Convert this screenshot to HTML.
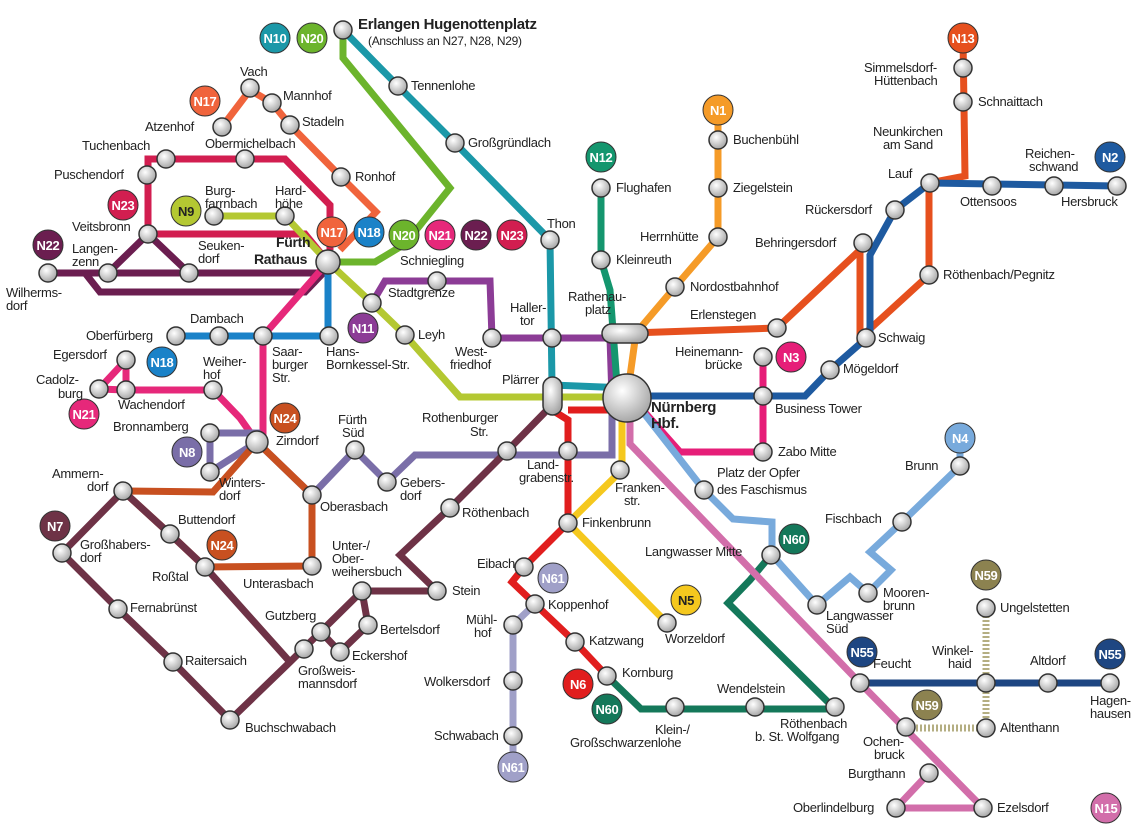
<!DOCTYPE html>
<html><head><meta charset="utf-8"><style>
html,body{margin:0;padding:0;background:#fff}
svg{display:block}
text{font-family:"Liberation Sans",sans-serif;font-size:13px;fill:#222;letter-spacing:-0.3px}
.b text,text.bt{font-weight:bold;fill:#fff;font-size:13px;text-anchor:middle}
.l{fill:none;stroke-width:7;stroke-linejoin:miter;stroke-linecap:butt}
.s{fill:url(#g);stroke:#333;stroke-width:1.5}
</style></head><body>
<svg width="1144" height="832" viewBox="0 0 1144 832" xmlns="http://www.w3.org/2000/svg">
<defs>
<radialGradient id="g" cx="40%" cy="35%" r="65%"><stop offset="0" stop-color="#fff"/><stop offset="1" stop-color="#a8a8a8"/></radialGradient>
</defs>
<polyline class="l" stroke="#1b98a8" points="343,30 398,86 455,143 550,240 552,385 627,388"/>
<polyline class="l" stroke="#6cb42c" points="343,30 343,58 450,188 405,244 375,262 328,262"/>
<polyline class="l" stroke="#f0643c" points="222,127 250,90 272,103 290,125 341,177 376,212 340,250"/>
<polyline class="l" stroke="#d21e50" points="328,262 305,234 148,234 148,159 285,159 330,205 330,250"/>
<polyline class="l" stroke="#6b1e50" points="48,273 320,273 328,262"/>
<polyline class="l" stroke="#6b1e50" points="85,273 100,292 305,292 328,268"/>
<polyline class="l" stroke="#6b1e50" points="108,273 148,234 189,273"/>
<polyline class="l" stroke="#b4c832" points="214,216 285,216 328,262 372,303 405,335 460,397 627,397"/>
<polyline class="l" stroke="#1a82c8" points="328,262 328,336 176,336"/>
<polyline class="l" stroke="#e6287a" points="328,262 263,336 263,440"/>
<polyline class="l" stroke="#e6287a" points="99,389 126,360 126,390 99,389"/>
<polyline class="l" stroke="#e6287a" points="126,390 213,390 240,418 257,442"/>
<polyline class="l" stroke="#8c3c96" points="372,303 385,281 490,281 492,338 610,338 612,398"/>
<polyline class="l" stroke="#7a6ea8" points="210,433 257,433 257,442 210,472 210,433"/>
<polyline class="l" stroke="#7a6ea8" points="257,442 312,495 355,450 387,482 415,455 612,455 612,398"/>
<polyline class="l" stroke="#c85020" points="257,442 213,492 123,491 170,534 205,567 312,566 312,495 257,442"/>
<polyline class="l" stroke="#6e3246" points="552,405 507,451 450,508 400,555 437,591 362,591 290,662 230,720 173,662 118,609 62,553 123,491 170,534 205,567 290,662"/>
<polyline class="l" stroke="#6e3246" points="362,591 368,625 340,652 321,632"/>
<polyline class="l" stroke="#e11e1e" points="552,410 568,420 568,451 568,523 524,567 512,582 535,604 575,642 607,676"/>
<polyline class="l" stroke="#e11e1e" points="568,410 627,410"/>
<polyline class="l" stroke="#f5c81e" points="622,410 622,470 568,523 667,623"/>
<polyline class="l" stroke="#a0a0c8" points="535,604 513,625 513,767"/>
<polyline class="l" stroke="#14785a" points="607,676 641,709 835,709 728,603 750,580 771,555"/>
<polyline class="l" stroke="#14966e" points="601,188 601,260 610,290 618,398"/>
<polyline class="l" stroke="#f59b28" points="718,110 718,237 675,287 636,333 627,398"/>
<polyline class="l" stroke="#e6501e" points="633,333 777,328 860,250 860,338 929,275 929,183 965,176 963,38"/>
<polyline class="l" stroke="#1e5aa0" points="627,396 805,396 830,370 870,335 870,255 895,210 930,183 1117,186"/>
<polyline class="l" stroke="#e61e78" points="632,398 680,452 763,452 763,357"/>
<polyline class="l" stroke="#d26eaa" points="630,410 630,444 860,683 983,808 896,808 929,773"/>
<polyline class="l" stroke="#78aadc" points="632,398 704,490 733,519 772,522 772,555 817,605 850,577 868,593 891,570 870,552 902,522 960,466 960,438"/>
<polyline class="l" stroke="#1e4682" points="860,683 1110,683"/>
<polyline class="l" stroke="#b4ae82" stroke-dasharray="2,2" stroke-width="8" points="986,608 986,728 906,728"/>
<rect x="602" y="324" width="46" height="19" rx="9.5" class="s"/>
<rect x="543" y="377" width="19" height="38" rx="9.5" class="s"/>
<circle cx="627" cy="398" r="24" class="s"/>
<circle cx="328" cy="262" r="12" class="s"/>
<circle cx="257" cy="442" r="11" class="s"/>
<g class="s">
<circle cx="343" cy="30" r="9"/><circle cx="398" cy="86" r="9"/><circle cx="455" cy="143" r="9"/><circle cx="550" cy="240" r="9"/><circle cx="552" cy="338" r="9"/><circle cx="492" cy="338" r="9"/>
<circle cx="222" cy="127" r="9"/><circle cx="250" cy="88" r="9"/><circle cx="272" cy="103" r="9"/><circle cx="290" cy="125" r="9"/><circle cx="341" cy="177" r="9"/>
<circle cx="166" cy="159" r="9"/><circle cx="245" cy="159" r="9"/><circle cx="147" cy="175" r="9"/><circle cx="148" cy="234" r="9"/>
<circle cx="214" cy="216" r="9"/><circle cx="285" cy="216" r="9"/><circle cx="108" cy="273" r="9"/><circle cx="189" cy="273" r="9"/><circle cx="48" cy="273" r="9"/>
<circle cx="176" cy="336" r="9"/><circle cx="219" cy="336" r="9"/><circle cx="263" cy="336" r="9"/><circle cx="329" cy="336" r="9"/><circle cx="372" cy="303" r="9"/><circle cx="437" cy="281" r="9"/><circle cx="405" cy="335" r="9"/>
<circle cx="126" cy="360" r="9"/><circle cx="99" cy="389" r="9"/><circle cx="126" cy="390" r="9"/><circle cx="213" cy="390" r="9"/>
<circle cx="210" cy="433" r="9"/><circle cx="210" cy="472" r="9"/><circle cx="123" cy="491" r="9"/><circle cx="62" cy="553" r="9"/><circle cx="170" cy="534" r="9"/><circle cx="205" cy="567" r="9"/><circle cx="312" cy="566" r="9"/><circle cx="312" cy="495" r="9"/><circle cx="355" cy="450" r="9"/><circle cx="387" cy="482" r="9"/>
<circle cx="118" cy="609" r="9"/><circle cx="173" cy="662" r="9"/><circle cx="230" cy="720" r="9"/><circle cx="304" cy="649" r="9"/><circle cx="321" cy="632" r="9"/><circle cx="368" cy="625" r="9"/><circle cx="340" cy="652" r="9"/><circle cx="362" cy="591" r="9"/><circle cx="437" cy="591" r="9"/><circle cx="450" cy="508" r="9"/><circle cx="507" cy="451" r="9"/>
<circle cx="568" cy="451" r="9"/><circle cx="620" cy="470" r="9"/><circle cx="568" cy="523" r="9"/><circle cx="524" cy="567" r="9"/><circle cx="535" cy="604" r="9"/><circle cx="513" cy="625" r="9"/><circle cx="513" cy="681" r="9"/><circle cx="513" cy="736" r="9"/><circle cx="575" cy="642" r="9"/><circle cx="607" cy="676" r="9"/><circle cx="667" cy="623" r="9"/>
<circle cx="675" cy="707" r="9"/><circle cx="755" cy="707" r="9"/><circle cx="835" cy="707" r="9"/><circle cx="771" cy="555" r="9"/><circle cx="704" cy="490" r="9"/><circle cx="817" cy="605" r="9"/><circle cx="868" cy="593" r="9"/><circle cx="902" cy="522" r="9"/><circle cx="960" cy="466" r="9"/>
<circle cx="860" cy="683" r="9"/><circle cx="986" cy="683" r="9"/><circle cx="1048" cy="683" r="9"/><circle cx="1110" cy="683" r="9"/><circle cx="986" cy="608" r="9"/><circle cx="986" cy="728" r="9"/><circle cx="906" cy="727" r="9"/><circle cx="929" cy="773" r="9"/><circle cx="896" cy="808" r="9"/><circle cx="983" cy="808" r="9"/>
<circle cx="763" cy="357" r="9"/><circle cx="763" cy="396" r="9"/><circle cx="763" cy="452" r="9"/><circle cx="830" cy="370" r="9"/><circle cx="866" cy="338" r="9"/><circle cx="777" cy="328" r="9"/><circle cx="863" cy="243" r="9"/><circle cx="895" cy="210" r="9"/><circle cx="929" cy="275" r="9"/><circle cx="930" cy="183" r="9"/><circle cx="992" cy="186" r="9"/><circle cx="1054" cy="186" r="9"/><circle cx="1117" cy="186" r="9"/>
<circle cx="963" cy="68" r="9"/><circle cx="963" cy="102" r="9"/><circle cx="718" cy="140" r="9"/><circle cx="718" cy="188" r="9"/><circle cx="718" cy="237" r="9"/><circle cx="675" cy="287" r="9"/><circle cx="601" cy="188" r="9"/><circle cx="601" cy="260" r="9"/>
</g>
<g class="b" stroke="#333" stroke-width="1">
<circle cx="275" cy="38" r="15" fill="#1b98a8"/><circle cx="312" cy="38" r="15" fill="#6cb42c"/>
<circle cx="205" cy="101" r="15" fill="#f0643c"/><circle cx="123" cy="205" r="15" fill="#d21e50"/><circle cx="186" cy="211" r="15" fill="#b4c832"/><circle cx="48" cy="245" r="15" fill="#6b1e50"/>
<circle cx="332" cy="232" r="15" fill="#f0643c"/><circle cx="369" cy="232" r="15" fill="#1a82c8"/><circle cx="404" cy="235" r="15" fill="#6cb42c"/><circle cx="440" cy="235" r="15" fill="#e6287a"/><circle cx="476" cy="235" r="15" fill="#6b1e50"/><circle cx="512" cy="235" r="15" fill="#d21e50"/>
<circle cx="363" cy="328" r="15" fill="#8c3c96"/><circle cx="162" cy="362" r="15" fill="#1a82c8"/><circle cx="84" cy="414" r="15" fill="#e6287a"/><circle cx="285" cy="418" r="15" fill="#c85020"/><circle cx="187" cy="452" r="15" fill="#7a6ea8"/><circle cx="55" cy="526" r="15" fill="#6e3246"/><circle cx="222" cy="545" r="15" fill="#c85020"/>
<circle cx="553" cy="578" r="15" fill="#a0a0c8"/><circle cx="513" cy="767" r="15" fill="#a0a0c8"/><circle cx="578" cy="684" r="15" fill="#e11e1e"/><circle cx="607" cy="709" r="15" fill="#14785a"/><circle cx="686" cy="600" r="15" fill="#f5c81e"/><circle cx="794" cy="539" r="15" fill="#14785a"/>
<circle cx="862" cy="652" r="15" fill="#1e4682"/><circle cx="1110" cy="654" r="15" fill="#1e4682"/><circle cx="986" cy="575" r="15" fill="#8c8250"/><circle cx="927" cy="705" r="15" fill="#8c8250"/><circle cx="1106" cy="808" r="15" fill="#d26eaa"/>
<circle cx="960" cy="438" r="15" fill="#78aadc"/><circle cx="791" cy="357" r="15" fill="#e61e78"/><circle cx="963" cy="38" r="15" fill="#e6501e"/><circle cx="1110" cy="157" r="15" fill="#1e5aa0"/><circle cx="718" cy="110" r="15" fill="#f59b28"/><circle cx="601" cy="157" r="15" fill="#14966e"/>
</g>
<g>
<text class="bt" x="275" y="43">N10</text><text class="bt" x="312" y="43">N20</text><text class="bt" x="205" y="106">N17</text><text class="bt" x="123" y="210">N23</text><text class="bt" x="186" y="216" style="fill:#222">N9</text><text class="bt" x="48" y="250">N22</text>
<text class="bt" x="332" y="237">N17</text><text class="bt" x="369" y="237">N18</text><text class="bt" x="404" y="240">N20</text><text class="bt" x="440" y="240">N21</text><text class="bt" x="476" y="240">N22</text><text class="bt" x="512" y="240">N23</text>
<text class="bt" x="363" y="333">N11</text><text class="bt" x="162" y="367">N18</text><text class="bt" x="84" y="419">N21</text><text class="bt" x="285" y="423">N24</text><text class="bt" x="187" y="457">N8</text><text class="bt" x="55" y="531">N7</text><text class="bt" x="222" y="550">N24</text>
<text class="bt" x="553" y="583">N61</text><text class="bt" x="513" y="772">N61</text><text class="bt" x="578" y="689">N6</text><text class="bt" x="607" y="714">N60</text><text class="bt" x="686" y="605" style="fill:#222">N5</text><text class="bt" x="794" y="544">N60</text>
<text class="bt" x="862" y="657">N55</text><text class="bt" x="1110" y="659">N55</text><text class="bt" x="986" y="580">N59</text><text class="bt" x="927" y="710">N59</text><text class="bt" x="1106" y="813">N15</text>
<text class="bt" x="960" y="443">N4</text><text class="bt" x="791" y="362">N3</text><text class="bt" x="963" y="43">N13</text><text class="bt" x="1110" y="162">N2</text><text class="bt" x="718" y="115">N1</text><text class="bt" x="601" y="162">N12</text>
</g>
<text x="358" y="29" style="font-weight:bold;font-size:15px">Erlangen Hugenottenplatz</text>
<text x="368" y="45" style="font-size:12px">(Anschluss an N27, N28, N29)</text>
<text x="411" y="90">Tennenlohe</text><text x="468" y="147">Großgründlach</text><text x="547" y="228">Thon</text>
<text x="240" y="76">Vach</text><text x="283" y="100">Mannhof</text><text x="302" y="126">Stadeln</text><text x="145" y="131">Atzenhof</text><text x="355" y="181">Ronhof</text>
<text x="82" y="150">Tuchenbach</text><text x="205" y="148">Obermichelbach</text><text x="54" y="179">Puschendorf</text><text x="72" y="231">Veitsbronn</text>
<text x="205" y="195">Burg-</text><text x="205" y="208">farrnbach</text><text x="275" y="195">Hard-</text><text x="275" y="208">höhe</text>
<text x="72" y="253">Langen-</text><text x="72" y="266">zenn</text><text x="198" y="250">Seuken-</text><text x="198" y="263">dorf</text>
<text x="6" y="297">Wilherms-</text><text x="6" y="310">dorf</text>
<text x="276" y="247" style="font-weight:bold;font-size:14px">Fürth</text><text x="254" y="264" style="font-weight:bold;font-size:14px">Rathaus</text>
<text x="388" y="297">Stadtgrenze</text><text x="400" y="265">Schniegling</text><text x="418" y="339">Leyh</text>
<text x="510" y="312">Haller-</text><text x="520" y="325">tor</text><text x="455" y="356">West-</text><text x="450" y="369">friedhof</text><text x="502" y="384">Plärrer</text>
<text x="86" y="340">Oberfürberg</text><text x="190" y="323">Dambach</text><text x="272" y="356">Saar-</text><text x="272" y="369">burger</text><text x="272" y="382">Str.</text>
<text x="326" y="356">Hans-</text><text x="326" y="369">Bornkessel-Str.</text>
<text x="53" y="359">Egersdorf</text><text x="36" y="384">Cadolz-</text><text x="58" y="398">burg</text><text x="118" y="409">Wachendorf</text><text x="203" y="366">Weiher-</text><text x="203" y="379">hof</text>
<text x="113" y="431">Bronnamberg</text><text x="276" y="445">Zirndorf</text><text x="219" y="487">Winters-</text><text x="219" y="500">dorf</text>
<text x="52" y="478">Ammern-</text><text x="87" y="491">dorf</text><text x="178" y="524">Buttendorf</text><text x="80" y="549">Großhabers-</text><text x="80" y="562">dorf</text><text x="152" y="581">Roßtal</text>
<text x="243" y="588">Unterasbach</text><text x="320" y="511">Oberasbach</text><text x="338" y="424">Fürth</text><text x="342" y="437">Süd</text><text x="400" y="487">Gebers-</text><text x="400" y="500">dorf</text>
<text x="130" y="612">Fernabrünst</text><text x="185" y="665">Raitersaich</text><text x="245" y="732">Buchschwabach</text>
<text x="265" y="620">Gutzberg</text><text x="380" y="634">Bertelsdorf</text><text x="352" y="660">Eckershof</text><text x="298" y="675">Großweis-</text><text x="298" y="688">mannsdorf</text>
<text x="332" y="550">Unter-/</text><text x="332" y="563">Ober-</text><text x="332" y="576">weihersbuch</text><text x="452" y="595">Stein</text>
<text x="462" y="517">Röthenbach</text><text x="422" y="422">Rothenburger</text><text x="470" y="436">Str.</text>
<text x="527" y="469">Land-</text><text x="519" y="482">grabenstr.</text><text x="615" y="492">Franken-</text><text x="624" y="505">str.</text><text x="582" y="527">Finkenbrunn</text>
<text x="477" y="568">Eibach</text><text x="548" y="609">Koppenhof</text><text x="466" y="624">Mühl-</text><text x="474" y="637">hof</text><text x="424" y="686">Wolkersdorf</text><text x="434" y="740">Schwabach</text>
<text x="589" y="645">Katzwang</text><text x="622" y="677">Kornburg</text><text x="665" y="643">Worzeldorf</text>
<text x="655" y="734">Klein-/</text><text x="570" y="747">Großschwarzenlohe</text><text x="780" y="728">Röthenbach</text><text x="755" y="741">b. St. Wolfgang</text><text x="717" y="693">Wendelstein</text>
<text x="645" y="556">Langwasser Mitte</text><text x="717" y="477">Platz der Opfer</text><text x="717" y="494">des Faschismus</text>
<text x="825" y="523">Fischbach</text><text x="905" y="470">Brunn</text><text x="883" y="597">Mooren-</text><text x="883" y="610">brunn</text><text x="826" y="620">Langwasser</text><text x="826" y="633">Süd</text>
<text x="873" y="668">Feucht</text><text x="932" y="655">Winkel-</text><text x="948" y="668">haid</text><text x="1030" y="665">Altdorf</text><text x="1090" y="705">Hagen-</text><text x="1090" y="718">hausen</text>
<text x="1000" y="612">Ungelstetten</text><text x="1000" y="732">Altenthann</text><text x="863" y="746">Ochen-</text><text x="874" y="759">bruck</text><text x="848" y="778">Burgthann</text><text x="793" y="812">Oberlindelburg</text><text x="997" y="812">Ezelsdorf</text>
<text x="651" y="412" style="font-weight:bold;font-size:15px">Nürnberg</text><text x="651" y="428" style="font-weight:bold;font-size:15px">Hbf.</text>
<text x="568" y="301">Rathenau-</text><text x="585" y="314">platz</text><text x="690" y="319">Erlenstegen</text><text x="675" y="356">Heinemann-</text><text x="705" y="369">brücke</text>
<text x="775" y="413">Business Tower</text><text x="778" y="456">Zabo Mitte</text><text x="843" y="373">Mögeldorf</text><text x="878" y="342">Schwaig</text>
<text x="755" y="247">Behringersdorf</text><text x="805" y="214">Rückersdorf</text><text x="943" y="279">Röthenbach/Pegnitz</text><text x="888" y="178">Lauf</text>
<text x="960" y="206">Ottensoos</text><text x="1025" y="158">Reichen-</text><text x="1029" y="171">schwand</text><text x="1061" y="206">Hersbruck</text>
<text x="864" y="72">Simmelsdorf-</text><text x="874" y="85">Hüttenbach</text><text x="978" y="106">Schnaittach</text><text x="873" y="136">Neunkirchen</text><text x="883" y="149">am Sand</text>
<text x="733" y="144">Buchenbühl</text><text x="733" y="192">Ziegelstein</text><text x="640" y="241">Herrnhütte</text><text x="690" y="291">Nordostbahnhof</text><text x="616" y="192">Flughafen</text><text x="616" y="264">Kleinreuth</text>
</svg>
</body></html>
